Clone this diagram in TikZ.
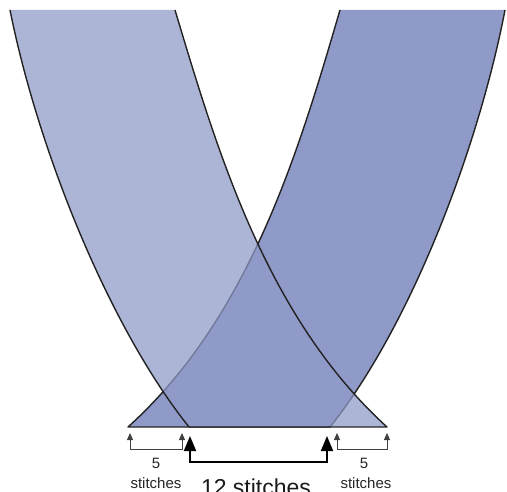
\documentclass[tikz,border=0pt]{standalone}
\usepackage{fontspec}
\setmainfont{Liberation Sans}
\usetikzlibrary{arrows.meta}
\definecolor{bandblue}{HTML}{8F9AC8}
\definecolor{edgecol}{HTML}{222222}
\begin{document}
\begin{tikzpicture}[x=1pt,y=-1pt,
  bandedge/.style={draw=edgecol,line width=1.4pt,line join=round},
  smallbracket/.style={draw=black!75,line width=1pt,
    {Triangle[width=6pt,length=7pt]}-{Triangle[width=6pt,length=7pt]}},
  bigbracket/.style={draw=black,line width=1.9pt,
    {Triangle[width=12pt,length=15pt]}-{Triangle[width=12pt,length=15pt]}},
  smalllabel/.style={font=\fontsize{15}{16}\selectfont,inner sep=0pt,anchor=base,text=black!85},
  biglabel/.style={font=\fontsize{23}{25}\selectfont,inner sep=0pt,anchor=base,text=black!90}]
\useasboundingbox (0,0) rectangle (507,492);
\clip (0,0) rectangle (507,492);
% band corners
\coordinate (LT1) at (10,10);
\coordinate (LT2) at (175,10);
\coordinate (LB1) at (189,427);
\coordinate (LB2) at (387,427);
\coordinate (RT1) at (340,10);
\coordinate (RT2) at (505,10);
\coordinate (RB1) at (128,427);
\coordinate (RB2) at (330,427);
% right band (underneath)
\fill[bandblue] (RT1) .. controls (299,150) and (250,317) .. (RB1) -- (RB2)
  .. controls (410,327) and (478,150) .. (RT2) -- cycle;
\draw[bandedge] (RT1) .. controls (299,150) and (250,317) .. (RB1) -- (RB2)
  .. controls (410,327) and (478,150) .. (RT2);
% left band (on top, translucent)
\fill[bandblue,fill opacity=0.73] (LT1) .. controls (38,150) and (109,327) .. (LB1) -- (LB2)
  .. controls (266,317) and (217,150) .. (LT2) -- cycle;
\draw[bandedge] (LT1) .. controls (38,150) and (109,327) .. (LB1) -- (LB2)
  .. controls (266,317) and (217,150) .. (LT2);
% brackets
\coordinate (s1at) at (130,433);
\coordinate (s1a) at (130,449);
\coordinate (s1b) at (182,449);
\coordinate (s1bt) at (182,433);
\coordinate (s2at) at (337,433);
\coordinate (s2a) at (337,449);
\coordinate (s2b) at (387,449);
\coordinate (s2bt) at (387,433);
\coordinate (b1t) at (190,436);
\coordinate (b1) at (190,462);
\coordinate (b2) at (327,462);
\coordinate (b2t) at (327,436);
\draw[smallbracket] (s1at) -- (s1a) -- (s1b) -- (s1bt);
\draw[smallbracket] (s2at) -- (s2a) -- (s2b) -- (s2bt);
\draw[bigbracket] (b1t) -- (b1) -- (b2) -- (b2t);
% labels
\node[smalllabel] (five1) at (156,468) {5};
\node[smalllabel] (stitch1) at (156,488) {stitches};
\node[smalllabel] (five2) at (364,468) {5};
\node[smalllabel] (stitch2) at (366,488) {stitches};
\node[biglabel] (twelve) at (256,496) {12 stitches};
\end{tikzpicture}
\end{document}
